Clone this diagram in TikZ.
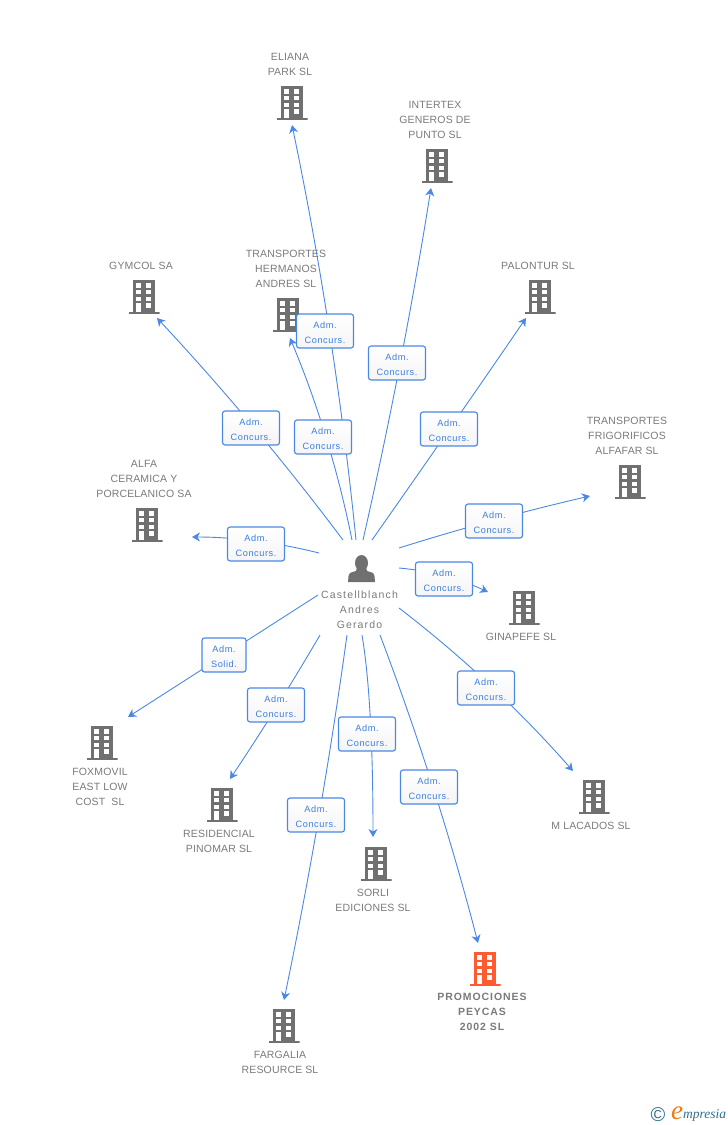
\documentclass[tikz,border=0pt]{standalone}
\usepackage{fontspec}
\setmainfont{Liberation Sans}
\newfontfamily\namefont[LetterSpace=1.5]{Liberation Sans}
\newfontfamily\hotfont[LetterSpace=9,BoldFont={Liberation Sans Bold}]{Liberation Sans}
\newfontfamily\hubfont[LetterSpace=11]{Liberation Sans}
\newfontfamily\admfont[LetterSpace=6]{Liberation Sans}
\newfontfamily\logofont{Liberation Serif}
\usetikzlibrary{arrows.meta,backgrounds,calc}
\definecolor{linkblue}{HTML}{4A88E4}
\definecolor{admblue}{HTML}{3B7FE0}
\definecolor{towergray}{HTML}{707070}
\definecolor{towerorange}{HTML}{FF5A30}
\definecolor{namegray}{HTML}{7A7A7A}
\definecolor{logoteal}{HTML}{2F6F8C}
\definecolor{logoorange}{HTML}{F07A10}
\newcommand{\towershape}[1]{%
  \fill[#1] (-11,-17) rectangle (11,15);
  \fill[#1] (-15.5,15) rectangle (15.5,17);
  \fill[white] (-7.7,-13.7) rectangle (-2.7,-8.7);
  \fill[white] (2.3,-13.7) rectangle (7.3,-8.7);
  \fill[white] (-7.7,-7) rectangle (-2.7,-2.7);
  \fill[white] (2.3,-7) rectangle (7.3,-2.7);
  \fill[white] (-7.7,-.3) rectangle (-2.7,4);
  \fill[white] (2.3,-.3) rectangle (7.3,4);
  \fill[white] (-7.7,6.3) rectangle (-2.7,15);
  \fill[white] (2.3,6.3) rectangle (7.3,11);
}
% one link, bent towards the point #2
\newcommand{\bentlink}[3]{\draw[link] (#1) .. controls ($(#1)!.667!(#2)$) and ($(#3)!.667!(#2)$) .. (#3);}
\tikzset{
  tower/.style={minimum width=31pt,minimum height=34pt,inner sep=0pt,
    path picture={\begin{scope}[shift={(path picture bounding box.center)}]\towershape{towergray}\end{scope}}},
  hottower/.style={minimum width=31pt,minimum height=34pt,inner sep=0pt,
    path picture={\begin{scope}[shift={(path picture bounding box.center)}]\towershape{towerorange}\end{scope}}},
  coname/.style={align=center,text=namegray,inner sep=0pt,yshift=-.2pt,font=\fontsize{10.5}{15}\namefont},
  adm/.style={draw=linkblue,line width=1.1pt,rounded corners=2.5pt,top color=white,bottom color=white!96!black,
    text=admblue,align=center,minimum height=34pt,inner sep=0pt,text width=57pt,font=\fontsize{9.2}{15}\admfont,
    execute at begin node=\rule{0pt}{10pt}},
  link/.style={draw=linkblue,line width=.9pt,-{Stealth[length=8pt,width=9pt,inset=2.5pt]}},
}
\begin{document}
\begin{tikzpicture}[x=1pt,y=-1pt]
  \useasboundingbox (0,0) rectangle (728,1125);

  % person in the middle
  \coordinate (hub) at (361.5,568);
  \fill[towergray] (hub) ++(0,-5) ellipse (6.5 and 8);
  \fill[towergray] (348,582) -- (348.5,576) .. controls (349,573) .. (356,571) -- (357,567) -- (366,567) -- (367,571) .. controls (374,573) .. (374.5,576) -- (375,582) -- cycle;
  \node[coname,font=\fontsize{10.5}{15}\hubfont] (hubname) at (359.5,610) {Castellblanch\\Andres\\Gerardo};

  % companies
  \node[tower] (eliana) at (292,103) {};
  \node[coname] (eliananame) at (290,64.5) {ELIANA\\PARK SL};
  \node[tower] (intertex) at (437,166) {};
  \node[coname] (intertexname) at (435,120) {INTERTEX\\GENEROS DE\\PUNTO SL};
  \node[tower] (gymcol) at (144,297) {};
  \node[coname] (gymcolname) at (141,266) {GYMCOL SA};
  \node[tower] (hermanos) at (288,315) {};
  \node[coname] (hermanosname) at (286,269) {TRANSPORTES\\HERMANOS\\ANDRES SL};
  \node[tower] (palontur) at (540,297) {};
  \node[coname] (palonturname) at (538,266) {PALONTUR SL};
  \node[tower] (frigorificos) at (630,482) {};
  \node[coname] (frigorificosname) at (627,436) {TRANSPORTES\\FRIGORIFICOS\\ALFAFAR SL};
  \node[tower] (alfa) at (147,525) {};
  \node[coname] (alfaname) at (144,479) {ALFA\\CERAMICA Y\\PORCELANICO SA};
  \node[tower] (ginapefe) at (524,608) {};
  \node[coname] (ginapefename) at (521,637) {GINAPEFE SL};
  \node[tower] (foxmovil) at (102,743) {};
  \node[coname] (foxmovilname) at (100,787) {FOXMOVIL\\EAST LOW\\COST\ \ SL};
  \node[tower] (pinomar) at (222,805) {};
  \node[coname] (pinomarname) at (219,841.5) {RESIDENCIAL\\PINOMAR SL};
  \node[tower] (lacados) at (594,797) {};
  \node[coname] (lacadosname) at (591,826) {M LACADOS SL};
  \node[tower] (sorli) at (376,864) {};
  \node[coname] (sorliname) at (373,900.5) {SORLI\\EDICIONES SL};
  \node[hottower] (peycas) at (485,969) {};
  \node[coname,font=\fontsize{10.5}{15}\hotfont\bfseries] (peycasname) at (482,1012) {PROMOCIONES\\PEYCAS\\2002 SL};
  \node[tower] (fargalia) at (284,1026) {};
  \node[coname] (fargalianame) at (280,1062.5) {FARGALIA\\RESOURCE SL};

  % role boxes
  \node[adm] (admeliana) at (325,331) {Adm.\\Concurs.};
  \node[adm] (admintertex) at (397,363) {Adm.\\Concurs.};
  \node[adm] (admgymcol) at (251,428) {Adm.\\Concurs.};
  \node[adm] (admhermanos) at (323,437) {Adm.\\Concurs.};
  \node[adm] (admpalontur) at (449,429) {Adm.\\Concurs.};
  \node[adm] (admfrigorificos) at (494,521) {Adm.\\Concurs.};
  \node[adm] (admalfa) at (256,544) {Adm.\\Concurs.};
  \node[adm] (admginapefe) at (444,579) {Adm.\\Concurs.};
  \node[adm] (admlacados) at (486,688) {Adm.\\Concurs.};
  \node[adm,text width=44pt] (admfoxmovil) at (224,655) {Adm.\\Solid.};
  \node[adm] (admpinomar) at (276,705) {Adm.\\Concurs.};
  \node[adm] (admsorli) at (367,734) {Adm.\\Concurs.};
  \node[adm] (admpeycas) at (429,787) {Adm.\\Concurs.};
  \node[adm] (admfargalia) at (316,815) {Adm.\\Concurs.};

  % free ends of the links
  \coordinate (fromgymcol) at (343,540);      \coordinate (togymcol) at (157,318);
  \coordinate (fromhermanos) at (352,540);    \coordinate (tohermanos) at (290,338);
  \coordinate (fromeliana) at (356,540);      \coordinate (toeliana) at (292,125);
  \coordinate (fromintertex) at (363,540);    \coordinate (tointertex) at (431,188);
  \coordinate (frompalontur) at (372,540);    \coordinate (topalontur) at (526,318);
  \coordinate (fromfrigorificos) at (399,548); \coordinate (tofrigorificos) at (590,496);
  \coordinate (fromginapefe) at (399,568);    \coordinate (toginapefe) at (488,592);
  \coordinate (fromlacados) at (399,608);     \coordinate (tolacados) at (573,771);
  \coordinate (frompeycas) at (380,635);      \coordinate (topeycas) at (478,943);
  \coordinate (fromsorli) at (362,635);       \coordinate (tosorli) at (373,837);
  \coordinate (fromfargalia) at (347,635);    \coordinate (tofargalia) at (284,1000);
  \coordinate (frompinomar) at (320,635);     \coordinate (topinomar) at (230,779);
  \coordinate (fromfoxmovil) at (318,595);    \coordinate (tofoxmovil) at (128,717);
  \coordinate (fromalfa) at (319,553);        \coordinate (toalfa) at (192,537);

  % links run behind the boxes
  \begin{scope}[on background layer]
  \bentlink{fromgymcol}{256,424}{togymcol}
  \bentlink{fromhermanos}{331,436}{tohermanos}
  \bentlink{fromeliana}{335,331.5}{toeliana}
  \bentlink{fromintertex}{403,364}{tointertex}
  \bentlink{frompalontur}{450,429}{topalontur}
  \bentlink{fromfrigorificos}{494.5,518}{tofrigorificos}
  \bentlink{fromginapefe}{445,572}{toginapefe}
  \bentlink{fromlacados}{494,681}{tolacados}
  \bentlink{frompeycas}{437.4,786.4}{topeycas}
  \bentlink{fromsorli}{373,700}{tosorli}
  \bentlink{fromfargalia}{322,817}{tofargalia}
  \bentlink{frompinomar}{277.2,708.4}{topinomar}
  \bentlink{fromfoxmovil}{223,656}{tofoxmovil}
  \bentlink{fromalfa}{255.5,537}{toalfa}
  \end{scope}

  % logo
  \node[inner sep=0pt,text=logoteal,font=\fontsize{20}{20}\selectfont] (logoc) at (658,1114.5) {©};
  \node[inner sep=0pt,anchor=base west,text=logoorange,font=\fontsize{27}{27}\logofont\itshape] (logoe) at (671,1119) {e};
  \node[inner sep=0pt,anchor=base west,text=logoteal,font=\fontsize{13.5}{14}\logofont\itshape] (logotext) at (683,1118) {mpresia};
\end{tikzpicture}
\end{document}
